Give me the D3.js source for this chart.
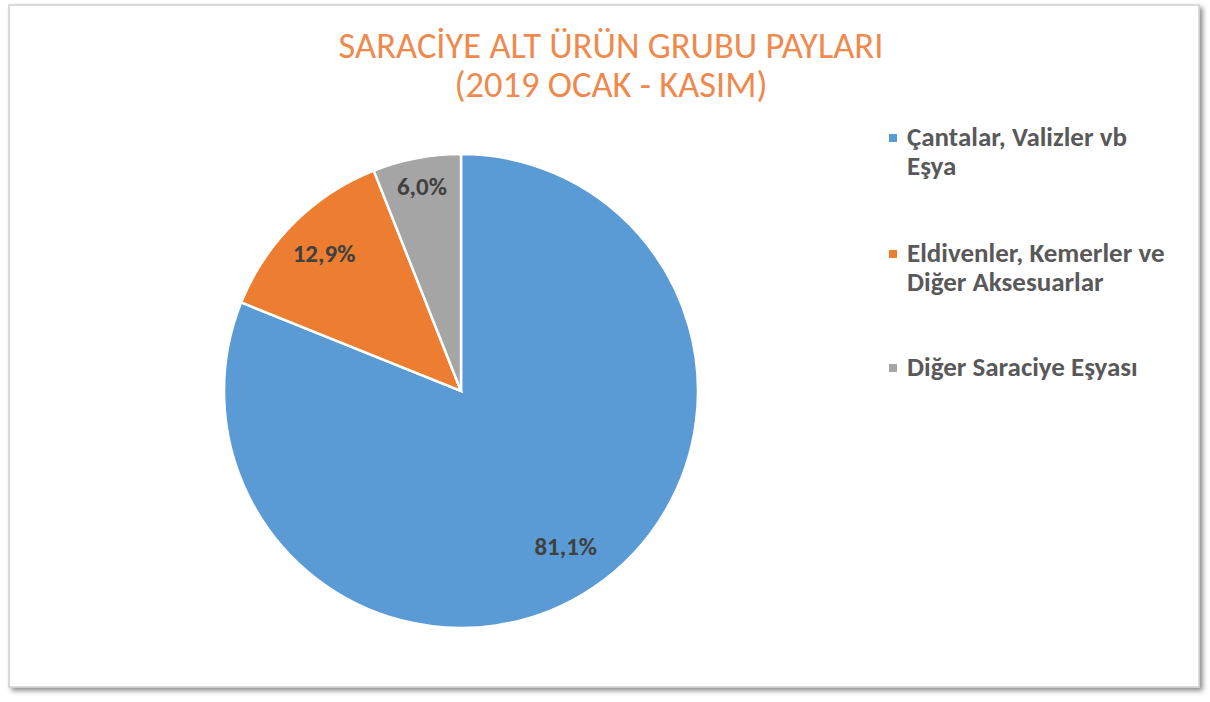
<!DOCTYPE html>
<html><head><meta charset="utf-8">
<script src="https://cdn.jsdelivr.net/npm/d3@7"></script>
<style>body{margin:0;background:#fff}svg{display:block}</style>
</head><body>
<svg id="c" width="1210" height="702"></svg>
<script>
const categories = ["Çantalar, Valizler vb Eşya", "Eldivenler, Kemerler ve Diğer Aksesuarlar", "Diğer Saraciye Eşyası"];
const legendLines = [["Çantalar, Valizler vb", "Eşya"], ["Eldivenler, Kemerler ve", "Diğer Aksesuarlar"], ["Diğer Saraciye Eşyası"]];
const values = [81.1, 12.9, 6.0];
const labels = ["81,1%", "12,9%", "6,0%"];
const colors = ["#5B9BD5", "#ED7D31", "#A5A5A5"];
const titleLines = ["SARACİYE ALT ÜRÜN GRUBU PAYLARI", "(2019 OCAK - KASIM)"];

const svg = d3.select("#c");
const defs = svg.append("defs");
const f = defs.append("filter").attr("id","sh").attr("x","-5%").attr("y","-5%").attr("width","110%").attr("height","110%");
f.append("feDropShadow").attr("dx",3).attr("dy",3).attr("stdDeviation",2.5).attr("flood-color","#000").attr("flood-opacity",0.45);

svg.append("rect").attr("x",9).attr("y",5).attr("width",1190).attr("height",682)
  .attr("fill","#fff").attr("stroke","#d0d0d0").attr("stroke-width",1.5).attr("filter","url(#sh)");

const font = "Carlito, 'Liberation Sans Narrow', 'Open Sans', sans-serif";

svg.selectAll("text.title").data(titleLines).enter().append("text")
  .attr("class","title").attr("x",611).attr("y",(d,i)=>58+i*39)
  .attr("text-anchor","middle").attr("font-family",font).attr("font-size",36.5)
  .attr("fill","#EE8A4E").text(d=>d);

const cx = 461, cy = 391, r = 237;
const pie = d3.pie().sort(null).value(d=>d);
const arcs = pie(values);
const arc = d3.arc().innerRadius(0).outerRadius(r);
const g = svg.append("g").attr("transform",`translate(${cx},${cy})`);
g.selectAll("path").data(arcs).enter().append("path")
  .attr("d",arc).attr("fill",(d,i)=>colors[i]).attr("stroke","#fff").attr("stroke-width",2.5);

const labelRadiusFactor = [0.79, 0.82, 0.88];
g.selectAll("text").data(arcs).enter().append("text")
  .attr("transform",(d,i)=>{const a=d3.arc().innerRadius(r*labelRadiusFactor[i]).outerRadius(r*labelRadiusFactor[i]);const p=a.centroid(d);return `translate(${p[0]},${p[1]})`;})
  .attr("dy","0.35em").attr("text-anchor","middle").attr("font-family",font)
  .attr("font-size",25).attr("font-weight","bold").attr("fill","#404040").text((d,i)=>labels[i]);

const lg = svg.append("g");
const entryY = [146, 262, 376];
legendLines.forEach((lines,i)=>{
  lg.append("rect").attr("x",889).attr("y",entryY[i]-12).attr("width",8).attr("height",8).attr("fill",colors[i]);
  lines.forEach((t,j)=>{
    lg.append("text").attr("x",907).attr("y",entryY[i]+j*29).attr("font-family",font)
      .attr("font-size",27).attr("font-weight","bold").attr("fill","#595959").text(t);
  });
});
</script>
</body></html>
